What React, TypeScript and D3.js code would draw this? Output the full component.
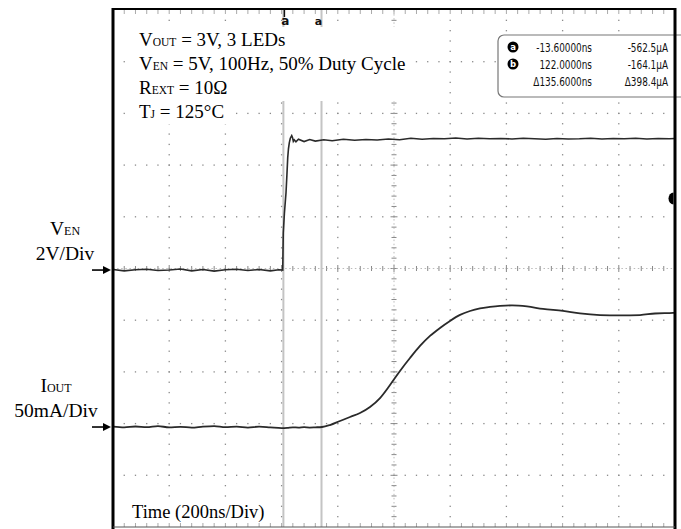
import React from 'react';
import * as d3 from 'd3';

// ---- channel / timebase settings (scope screen) ----
const TIME_DOMAIN: [number, number] = [-620, 1380]; // ns, 200ns/div
const VEN_DOMAIN: [number, number] = [-9.94, 10.06]; // V, 2V/div
const IOUT_DOMAIN: [number, number] = [-96.7, 403.3]; // mA, 50mA/div

// ---- traces [time ns, value] ----
const venTrace: [number, number][] = [
  [-620, 0.02], [-580, -0.03], [-540, 0.01], [-500, 0.03], [-460, -0.02], [-420, 0.0],
  [-380, 0.04], [-340, -0.03], [-300, 0.02], [-260, -0.04], [-220, 0.01], [-180, 0.03],
  [-140, -0.02], [-100, 0.02], [-60, -0.03], [-30, 0.01], [-16, 0.0], [-14, 1.44],
  [-10, 2.2], [-4.3, 2.99], [-1, 3.7], [1.8, 4.35], [4.5, 4.7], [7.5, 4.93], [11, 5.1],
  [16, 5.2], [19, 5.12], [21.7, 4.98], [25, 5.04], [31, 4.96], [40, 5.06], [60, 4.97],
  [80, 5.05], [100, 4.99], [130, 5.04], [160, 5.0], [200, 5.06], [240, 5.02], [280, 5.05],
  [320, 5.03], [360, 5.07], [400, 5.04], [440, 5.1], [480, 5.06], [520, 5.09], [560, 5.08],
  [600, 5.11], [640, 5.07], [680, 5.1], [720, 5.08], [760, 5.09], [800, 5.07], [840, 5.1],
  [880, 5.08], [920, 5.06], [960, 5.09], [1000, 5.07], [1040, 5.08], [1080, 5.1], [1120, 5.07],
  [1160, 5.09], [1200, 5.08], [1240, 5.1], [1280, 5.07], [1320, 5.09], [1360, 5.08], [1380, 5.09],
];

const ioutTrace: [number, number][] = [
  [-620, 0.3], [-580, -0.4], [-540, 0.5], [-500, -0.2], [-460, 0.8], [-420, -0.3], [-380, 0.2],
  [-340, -0.6], [-300, 0.4], [-260, 0.9], [-220, -0.2], [-180, 0.3], [-140, -0.5], [-100, 0.4],
  [-60, -0.3], [-20, -1.0], [0, -0.8], [20, -0.3], [40, -0.6], [60, -0.2], [80, -0.5], [100, -0.3],
  [123.8, 0.0], [152.1, 1.9], [187.8, 5.8], [223.4, 9.7], [259.0, 13.5], [294.6, 19.3],
  [330.2, 28.0], [365.8, 40.6], [401.3, 54.2], [436.9, 66.7], [472.5, 78.4], [508.1, 88.1],
  [543.7, 95.8], [579.3, 102.6], [614.9, 108.4], [650.5, 112.2], [686.0, 114.7], [721.6, 116.1],
  [757.2, 117.1], [799.9, 117.6], [853.3, 116.6], [910.2, 114.2], [981.4, 112.3], [1041.9, 109.8],
  [1113.1, 108.3], [1184.3, 108.0], [1255.4, 108.3], [1308.8, 109.8], [1372.9, 110.3], [1380, 110.4],
];

// ---- cursors & readout ----
const cursorT = [-13.6, 122.0];
const cursorLabels = ['a', 'b'];
const readTime = ['-13.60000ns', '122.0000ns', 'Δ135.6000ns'];
const readCurrent = ['-562.5µA', '-164.1µA', 'Δ398.4µA'];

// ---- annotations ----
const condMain = ['V', 'V', 'R', 'T'];
const condSub = ['OUT', 'EN', 'EXT', 'J'];
const condRest = [' = 3V, 3 LEDs', ' = 5V, 100Hz, 50% Duty Cycle', ' = 10Ω', ' = 125°C'];
const chanMain = ['V', 'I'];
const chanSub = ['EN', 'OUT'];
const chanScale = ['2V/Div', '50mA/Div'];
const timeLabel = 'Time (200ns/Div)';

const SERIF = "'Liberation Serif', 'Times New Roman', serif";
const NARROW = "'DejaVu Sans Condensed', 'DejaVu Sans', sans-serif";
const W_ = 681, H_ = 529;

export default function App() {
  const X0 = 113, X1 = 675, Y0 = 10, Y1 = 527;
  const x = d3.scaleLinear().domain(TIME_DOMAIN).range([X0, X1]);
  const yV = d3.scaleLinear().domain(VEN_DOMAIN).range([Y1, Y0]);
  const yI = d3.scaleLinear().domain(IOUT_DOMAIN).range([Y1, Y0]);
  const lineV = d3.line<[number, number]>().x(d => x(d[0])).y(d => yV(d[1]));
  const lineI = d3.line<[number, number]>().x(d => x(d[0])).y(d => yI(d[1])).curve(d3.curveMonotoneX);

  const dx = (X1 - X0) / 10, dy = (Y1 - Y0) / 10;
  const cx = X0 + 5 * dx, cy = Y0 + 5 * dy;

  const grid: any[] = [];
  for (let i = 1; i < 10; i++) {
    if (i === 5) continue;
    const gx = X0 + i * dx;
    const gy = Y0 + i * dy;
    for (let j = 1; j < 50; j++) {
      grid.push(<rect key={`v${i}-${j}`} x={gx - 0.65} y={Y0 + (j * dy) / 5 - 0.65} width={1.3} height={1.3} fill="#8a8a8a" />);
      grid.push(<rect key={`h${i}-${j}`} x={X0 + (j * dx) / 5 - 0.65} y={gy - 0.65} width={1.3} height={1.3} fill="#8a8a8a" />);
    }
  }
  for (let j = 1; j < 50; j++) {
    const major = j % 5 === 0;
    const ty = Y0 + (j * dy) / 5;
    const tx = X0 + (j * dx) / 5;
    const l = major ? 3.5 : 2.5;
    grid.push(<line key={`cv${j}`} x1={cx - l} x2={cx + l} y1={ty} y2={ty} stroke="#888" strokeWidth={1} />);
    grid.push(<line key={`ch${j}`} x1={tx} x2={tx} y1={cy - l} y2={cy + l} stroke="#888" strokeWidth={1} />);
    grid.push(<line key={`tt${j}`} x1={tx} x2={tx} y1={Y0} y2={Y0 + 4} stroke="#aaa" strokeWidth={1} />);
    grid.push(<line key={`bt${j}`} x1={tx} x2={tx} y1={Y1 - 4} y2={Y1} stroke="#aaa" strokeWidth={1} />);
  }
  grid.push(<line key="cvl" x1={cx} x2={cx} y1={Y0} y2={Y1} stroke="#aaa" strokeWidth={0.8} strokeDasharray="1.5 2.6" />);
  grid.push(<line key="chl" x1={X0} x2={X1} y1={cy} y2={cy} stroke="#aaa" strokeWidth={0.8} strokeDasharray="1.5 2.6" />);

  const arrow = (yy: number, k: string) => (
    <g key={k}>
      <line x1={92} x2={105} y1={yy} y2={yy} stroke="#000" strokeWidth={1.6} />
      <path d={`M111,${yy} L103,${yy - 4} L103,${yy + 4} Z`} fill="#000" />
    </g>
  );

  const labelX = [65, 56];

  return (
    <svg width={W_} height={H_} style={{ display: 'block', position: 'absolute', left: 0, top: 0, background: '#fff' }}>
      <rect x={0} y={0} width={W_} height={H_} fill="#fff" />
      {grid}
      {cursorT.map((t, i) => (
        <line key={`cur${i}`} x1={x(t)} x2={x(t)} y1={Y0} y2={Y1} stroke="#c4c4c4" strokeWidth={2} />
      ))}
      <path d={lineV(venTrace) || ''} fill="none" stroke="#2a2a2a" strokeWidth={1.6} />
      <path d={lineI(ioutTrace) || ''} fill="none" stroke="#2a2a2a" strokeWidth={1.8} />

      <rect x={127} y={27} width={285} height={74} fill="#fff" />
      <rect x={127} y={100} width={106} height={24} fill="#fff" />
      {condMain.map((m, i) => (
        <text key={`c${i}`} x={139} y={46 + 24 * i} fontFamily={SERIF} fontSize={19} fill="#000">
          {m}
          <tspan fontSize={11.5}>{condSub[i]}</tspan>
          {condRest[i]}
        </text>
      ))}

      <line x1={x(cursorT[0]) + 1} x2={x(cursorT[0]) + 1} y1={Y0} y2={Y0 + 7} stroke="#111" strokeWidth={1.5} />
      <text x={x(cursorT[0]) + 2} y={25} textAnchor="middle" fontFamily="DejaVu Sans" fontWeight="bold" fontSize={12} fill="#111">{cursorLabels[0]}</text>
      <text x={x(cursorT[1]) - 3} y={25} textAnchor="middle" fontFamily="DejaVu Sans" fontWeight="bold" fontSize={11} fill="#111">{cursorLabels[0]}</text>

      <rect x={498} y={35} width={190} height={62} rx={6} ry={6} fill="#fff" stroke="#777" strokeWidth={1.2} />
      {readTime.map((s, i) => (
        <g key={`r${i}`}>
          {i < 2 && (
            <g>
              <circle cx={513} cy={47 + 17 * i} r={5.5} fill="#000" />
              <text x={513} y={50 + 17 * i} textAnchor="middle" fontFamily="DejaVu Sans" fontWeight="bold" fontSize={8.5} fill="#fff">{cursorLabels[i]}</text>
            </g>
          )}
          <text transform={`translate(592,${52 + 17 * i}) scale(0.76,1)`} textAnchor="end" fontFamily={NARROW} fontSize={13} fill="#111">{s}</text>
          <text transform={`translate(668,${52 + 17 * i}) scale(0.76,1)`} textAnchor="end" fontFamily={NARROW} fontSize={13} fill="#111">{readCurrent[i]}</text>
        </g>
      ))}

      <line x1={X0} x2={X0} y1={8} y2={H_} stroke="#000" strokeWidth={3} />
      <line x1={X0} x2={X1 + 1} y1={9} y2={9} stroke="#000" strokeWidth={2} />
      <line x1={X1} x2={X1} y1={8} y2={H_} stroke="#000" strokeWidth={3} />
      <line x1={X0} x2={X1} y1={Y1} y2={Y1} stroke="#555" strokeWidth={1} />
      <path d={`M${X1 - 1.5},${yV(3.0)} A5,6 0 0 0 ${X1 - 1.5},${yV(3.0) + 12} Z`} fill="#000" />

      {chanMain.map((m, i) => {
        const gy = i === 0 ? yV(0) : yI(0);
        return (
          <g key={`ch${i}`}>
            <text x={labelX[i]} y={gy - 35} textAnchor="middle" fontFamily={SERIF} fontSize={19.5} fill="#000">
              {m}<tspan fontSize={12}>{chanSub[i]}</tspan>
            </text>
            <text x={labelX[i]} y={gy - 10} textAnchor="middle" fontFamily={SERIF} fontSize={19.5} fill="#000">{chanScale[i]}</text>
            {arrow(gy, `a${i}`)}
          </g>
        );
      })}

      <rect x={126} y={498} width={152} height={24} fill="#fff" />
      <text x={132} y={518} fontFamily={SERIF} fontSize={18.5} fill="#000">{timeLabel}</text>
    </svg>
  );
}
